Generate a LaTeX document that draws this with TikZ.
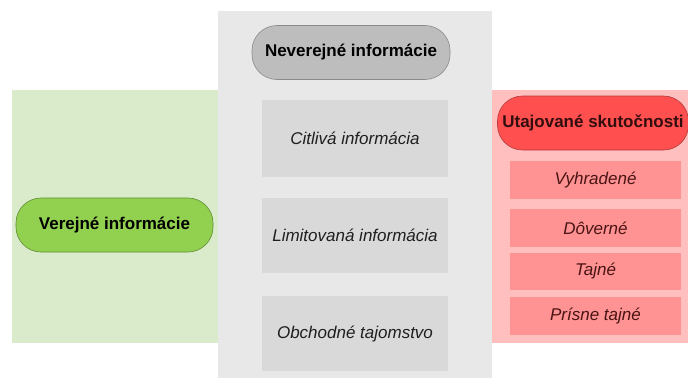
\documentclass[tikz,border=0pt]{standalone}
\usepackage{fontspec}
\setmainfont{Liberation Sans}
\usepackage{tikz}
\usepackage{color,xcolor}
\definecolor{gbg}{HTML}{D9EBCB}
\definecolor{gn}{HTML}{92D050}
\definecolor{gnd}{HTML}{5E8C2E}
\definecolor{sbg}{HTML}{E8E8E8}
\definecolor{sb}{HTML}{D9D9D9}
\definecolor{sn}{HTML}{BDBDBD}
\definecolor{snd}{HTML}{8A8A8A}
\definecolor{rbg}{HTML}{FFBFBF}
\definecolor{rb}{HTML}{FF9292}
\definecolor{rn}{HTML}{FF4F4F}
\definecolor{rnd}{HTML}{B03A3A}
\definecolor{rt}{HTML}{4A1414}

\tikzset{
  pill/.style={draw,line width=0.6pt,rounded corners=25pt,minimum height=54pt,inner xsep=0pt,font=\bfseries},
  sbox/.style={fill=sb,minimum width=186pt,text=black!88,font=\itshape},
  rbox/.style={fill=rb,minimum width=171pt,minimum height=38pt,text=rt,font=\itshape}
}

\begin{document}
\fontsize{17}{20}\selectfont
\begin{tikzpicture}[x=1pt,y=-1pt]
            \useasboundingbox (0,0) rectangle (688,378);
            \fill[gbg] (12,90) rectangle (218,343);
            \fill[sbg] (218,11) rectangle (492,378);
            \fill[rbg] (492,90) rectangle (688,343);
            \node[pill,fill=gn,draw=gnd,minimum width=197pt] (ver) at (114.5,225) {Verejné informácie};
            \node[pill,fill=sn,draw=snd,minimum width=198pt] (nev) at (351,52.5) {Neverejné informácie};
            \node[sbox,minimum height=77pt] (cit) at (355,138.5) {Citlivá informácia};
            \node[sbox,minimum height=75pt] (lim) at (355,235.5) {Limitovaná informácia};
            \node[sbox,minimum height=75pt] (obc) at (355,333.5) {Obchodné tajomstvo};
            \node[pill,fill=rn,draw=rnd,text=rt!70!black,minimum width=191pt] (uta) at (593,123) {Utajované skutočnosti};
            \node[rbox] (vyh) at (595.5,180) {Vyhradené};
            \node[rbox] (dov) at (595.5,228) {Dôverné};
            \node[rbox,minimum height=37pt] (taj) at (595.5,271.5) {Tajné};
            \node[rbox] (pri) at (595.5,316) {Prísne tajné};
          \end{tikzpicture}
\end{document}
